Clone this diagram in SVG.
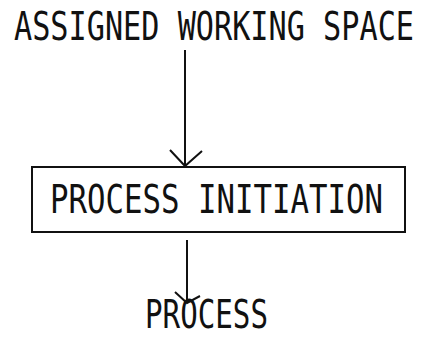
<svg xmlns="http://www.w3.org/2000/svg" width="427" height="343" viewBox="0 0 427 343">
  <style>
    .lbl { font-family: "DejaVu Sans Mono", "Liberation Mono", monospace; font-size: 39px; fill: #111; }
    .edge { stroke: #111; stroke-width: 2; fill: none; }
    .box { stroke: #111; stroke-width: 2; fill: #fff; }
  </style>
  <rect width="427" height="343" fill="#fff"/>

  <g id="connectors">
    <line class="edge" x1="185" y1="50" x2="185" y2="166"/>
    <polyline class="edge" points="170,150 185,166 202,151"/>
    <line class="edge" x1="187" y1="240" x2="187" y2="303"/>
    <polyline class="edge" points="175,292 187,303 200,296"/>
  </g>

  <g id="assigned-working-space">
    <text class="lbl" x="14" y="40" textLength="400" lengthAdjust="spacingAndGlyphs">ASSIGNED WORKING SPACE</text>
  </g>

  <g id="process-initiation">
    <rect class="box" x="32" y="167" width="373" height="65"/>
    <text class="lbl" x="50" y="213" textLength="333" lengthAdjust="spacingAndGlyphs">PROCESS INITIATION</text>
  </g>

  <g id="process">
    <text class="lbl" x="145" y="328" textLength="123" lengthAdjust="spacingAndGlyphs">PROCESS</text>
  </g>
</svg>
